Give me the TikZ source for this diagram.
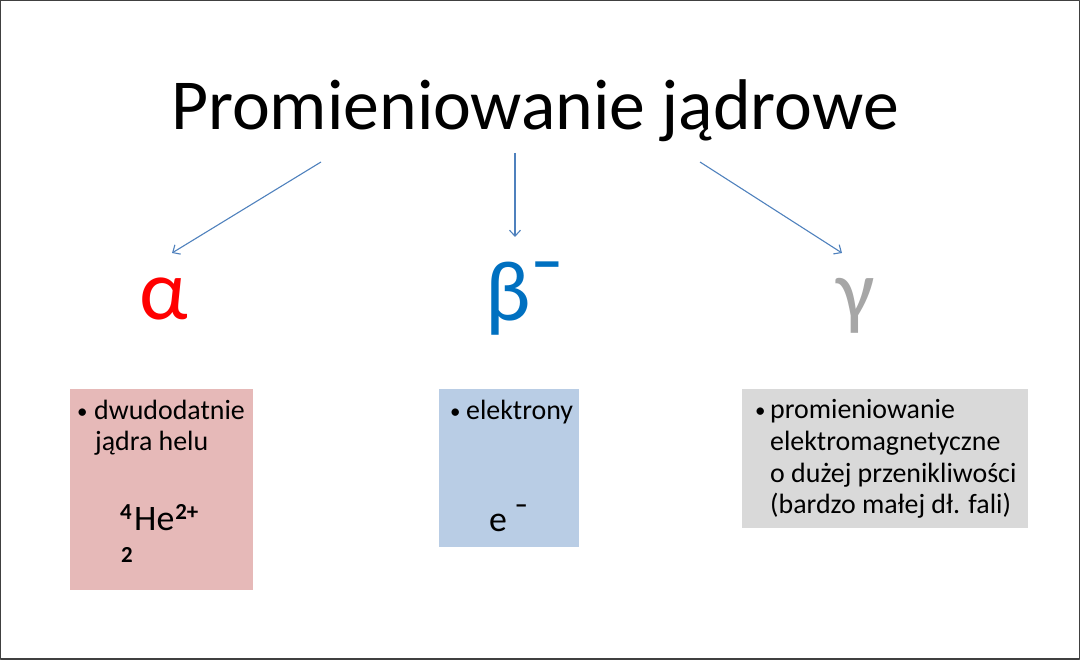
\documentclass[tikz,border=0pt]{standalone}
\usepackage{fontspec}
\setmainfont{Carlito}
\usetikzlibrary{arrows.meta}
\definecolor{arrowcol}{RGB}{79,129,189}
\definecolor{alphacol}{RGB}{255,0,0}
\definecolor{betacol}{RGB}{0,112,192}
\definecolor{gammacol}{RGB}{166,166,166}
\definecolor{alphafill}{RGB}{230,185,184}
\definecolor{betafill}{RGB}{185,205,229}
\definecolor{gammafill}{RGB}{217,217,217}
\tikzset{
  panel/.style={draw=none,inner sep=0pt},
  txt/.style={anchor=base west,inner sep=0pt,font=\fontsize{28}{32}\selectfont},
  dot/.style={anchor=base west,inner sep=0pt,font=\fontsize{21}{24}\selectfont},
  greek/.style={anchor=base west,inner sep=0pt,font=\fontsize{86}{100}\selectfont},
  big/.style={anchor=base west,inner sep=0pt,font=\fontsize{36}{40}\selectfont},
  small/.style={anchor=base west,inner sep=0pt,font=\fontsize{23}{26}\selectfont\bfseries},
  link/.style={->,arrowcol,line width=1.1bp},
}
\begin{document}
\begin{tikzpicture}[>={Straight Barb[length=6bp,width=11bp]},line join=bevel,x=1bp,y=1bp]
  \useasboundingbox (0,0) rectangle (1080,660);
  \draw [line width=1.5bp,black!75] (0.75,0.75) rectangle (1079.25,659.25);
%%
  % Node: title
  \node [anchor=base,inner sep=0pt,font=\fontsize{72}{86}\selectfont] (title) at (535,530) {Promieniowanie jądrowe};
  % Node: alpha
  \node [greek,text=alphacol] (alpha) at (139,340) {α};
  % Node: beta
  \node [greek,text=betacol] (beta) at (485,339) {β};
  \node [anchor=base west,inner sep=0pt,text=betacol,font=\fontsize{60}{64}\selectfont\bfseries] (betaminus) at (beta.base east) {\raisebox{37bp}{\kern1bp−}};
  % Node: gamma
  \node [greek,text=gammacol] (gamma) at (836,340) {γ};
%%
  % Edge: title -> alpha
  \coordinate (a0) at (321,498);
  \coordinate (a1) at (172,407);
  \draw [link] (a0) -- (a1);
  % Edge: title -> beta
  \coordinate (b0) at (515,507);
  \coordinate (b1) at (515,423);
  \draw [link] (b0) -- (b1);
  % Edge: title -> gamma
  \coordinate (c0) at (700,498);
  \coordinate (c1) at (842,407);
  \draw [link] (c0) -- (c1);
%%
  % Node: alphapanel
  \node [panel,fill=alphafill,minimum width=183bp,minimum height=201bp] (alphapanel) at (161.5,170.5) {};
  \node [dot] (a-bul) at (77,241) {•};
  \node [txt] (a-l1) at (94,240) {dwudodatnie};
  \node [txt] (a-l2) at (95,209) {jądra helu};
  \node [small] (he-a) at (120,129) {\raisebox{11bp}{4}};
  \node [big] (he) at (134,129) {He};
  \node [small] (he-q) at (he.base east) {\raisebox{11bp}{\kern0.5bp 2+}};
  \node [small] (he-z) at (121,97) {2};
  % Node: betapanel
  \node [panel,fill=betafill,minimum width=140bp,minimum height=158bp] (betapanel) at (509,192) {};
  \node [dot] (b-bul) at (450,241) {•};
  \node [txt] (b-l1) at (466,240) {elektrony};
  \node [big] (el) at (489,128) {e};
  \node [anchor=base west,inner sep=0pt,font=\fontsize{24}{28}\selectfont\bfseries] (el-q) at (el.base east) {\raisebox{18bp}{\kern8bp−}};
  % Node: gammapanel
  \node [panel,fill=gammafill,minimum width=286bp,minimum height=139bp] (gammapanel) at (885,201.5) {};
  \node [dot] (c-bul) at (755,242) {•};
  \node [txt] (c-l1) at (770,241) {promieniowanie};
  \node [txt] (c-l2) at (770,209) {elektromagnetyczne};
  \node [txt] (c-l3) at (770,177) {o dużej przenikliwości};
  \node [txt] (c-l4) at (770,146) {(bardzo małej dł. fali)};
%
\end{tikzpicture}
\end{document}
